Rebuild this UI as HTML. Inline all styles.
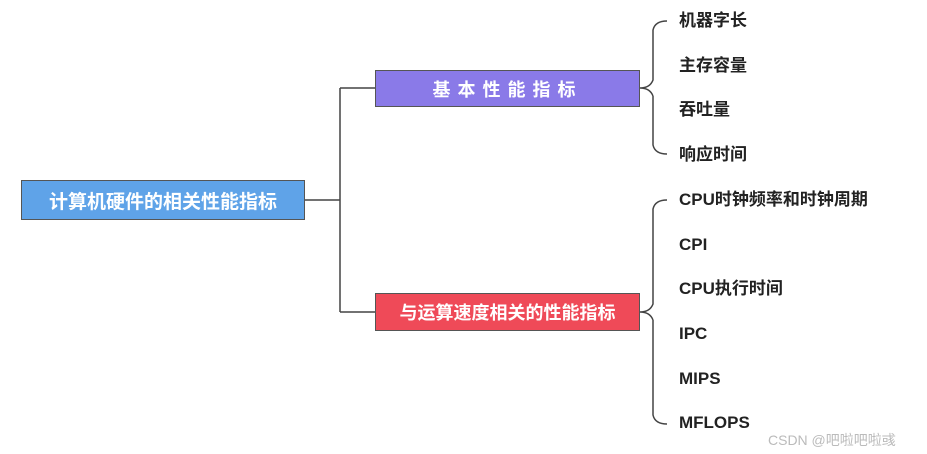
<!DOCTYPE html>
<html><head><meta charset="utf-8"><style>
body{margin:0;width:927px;height:454px;background:#fff;position:relative;overflow:hidden;font-family:"Liberation Sans","Noto Sans CJK SC",sans-serif}
.box{position:absolute;color:#fff;font-weight:bold;font-size:19px;display:flex;align-items:center;justify-content:center;box-sizing:border-box;border:1px solid #555}
.t{position:absolute;left:679px;font-weight:bold;font-size:17px;color:#222;line-height:20px;transform:translateY(-10px)}
</style></head><body>
<svg width="927" height="454" style="position:absolute;left:0;top:0">
<g fill="none" stroke="#444" stroke-width="1.5">
<path d="M305 200 H340 M340 88 V312 M340 88 H375 M340 312 H375"/>
<path d="M640 88 Q650 88 653 80 V30 Q655 21 667 21 M653 96 V145 Q655 154 667 154 M640 88 Q650 88 653 96"/>
<path d="M640 312 Q650 312 653 304 V209 Q655 200 667 200 M653 320 V415 Q655 424 667 424 M640 312 Q650 312 653 320"/>
</g></svg>
<div class="box" style="left:21px;top:180px;width:284px;height:40px;background:#5fa3e8">计算机硬件的相关性能指标</div>
<div class="box" style="left:375px;top:70px;width:265px;height:37px;background:#8a7ae8;letter-spacing:7px;font-size:18px">基本性能指标</div>
<div class="box" style="left:375px;top:293px;width:265px;height:38px;background:#ef4a58;font-size:18px">与运算速度相关的性能指标</div>
<div class="t" style="top:21px">机器字长</div>
<div class="t" style="top:66px">主存容量</div>
<div class="t" style="top:110px">吞吐量</div>
<div class="t" style="top:155px">响应时间</div>
<div class="t" style="top:200px">CPU时钟频率和时钟周期</div>
<div class="t" style="top:245px">CPI</div>
<div class="t" style="top:289px">CPU执行时间</div>
<div class="t" style="top:334px">IPC</div>
<div class="t" style="top:379px">MIPS</div>
<div class="t" style="top:423px">MFLOPS</div>
<div style="position:absolute;left:768px;top:430px;font-size:14px;color:#bbb">CSDN @吧啦吧啦彧</div>
</body></html>
